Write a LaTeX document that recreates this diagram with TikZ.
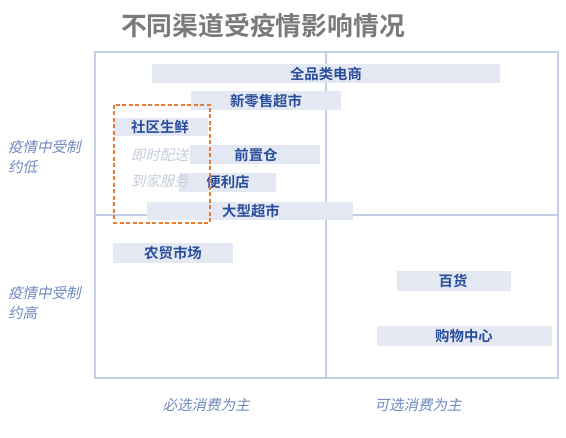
\documentclass[tikz,border=0pt]{standalone}
\usepackage{fontspec}
\newfontfamily\cjk{Noto Sans CJK SC}[BoldFont={Noto Sans CJK SC Bold}]
\newfontfamily\cjkit{Noto Sans CJK SC}[FakeSlant=0.22]
\definecolor{framec}{HTML}{C3CEE6}
\definecolor{barc}{HTML}{E3E8F2}
\definecolor{bartext}{HTML}{2B4E9C}
\definecolor{axistext}{HTML}{6E88BE}
\definecolor{ghost}{HTML}{C6CCDB}
\definecolor{orangec}{HTML}{E97C30}
\definecolor{titlec}{HTML}{7A7A7A}
\tikzset{
  bartxt/.style={font=\cjk\bfseries\fontsize{14.4}{16}\selectfont, text=bartext, inner sep=0pt, anchor=center},
  axtxt/.style={font=\cjkit\fontsize{14.5}{20}\selectfont, text=axistext, inner sep=0pt, align=left, anchor=north west},
  ghosttxt/.style={font=\cjkit\fontsize{14.3}{15}\selectfont, text=ghost, inner sep=0pt, anchor=west},
  bottxt/.style={font=\cjkit\fontsize{14.5}{16}\selectfont, text=axistext, inner sep=0pt},
  bar/.style={fill=barc}
}
\begin{document}
\begin{tikzpicture}[x=1pt,y=-1pt]
\useasboundingbox (0,0) rectangle (566,438);
\fill[white] (0,0) rectangle (566,438);
% title
\node[font=\cjk\bfseries\fontsize{25.8}{28}\selectfont, text=titlec, inner sep=0pt] (title) at (263,26) {不同渠道受疫情影响情况};
% frame
\draw[framec, line width=1.3pt] (95,52) rectangle (558,378);
\draw[framec, line width=1.3pt] (326,52) -- (326,378);
\draw[framec, line width=1.3pt] (95,215) -- (558,215);
% bars
\fill[bar] (152,64) rectangle (500,83);
\fill[bar] (191,91) rectangle (341,110);
\fill[bar] (114,118) rectangle (208,136);
\fill[bar] (190,145) rectangle (320,164);
\fill[bar] (179,173) rectangle (276,192);
\fill[bar] (147,202) rectangle (353,220);
\fill[bar] (113,243) rectangle (233,263);
\fill[bar] (397,271) rectangle (511,291);
\fill[bar] (377,326) rectangle (552,346);
% bar labels
\node[bartxt] (qp) at (326,74) {全品类电商};
\node[bartxt] (xl) at (266,101) {新零售超市};
\node[bartxt] (sq) at (160,127) {社区生鲜};
\node[bartxt] (qz) at (256,155) {前置仓};
\node[bartxt] (bl) at (228,182) {便利店};
\node[bartxt] (dx) at (251,211) {大型超市};
\node[bartxt] (nm) at (173,253) {农贸市场};
\node[bartxt] (bh) at (453,281) {百货};
\node[bartxt] (gw) at (464,336) {购物中心};
% ghost labels
\node[ghosttxt] (js) at (131,155) {即时配送};
\node[ghosttxt] (dj) at (131,181) {到家服务};
% dashed box
\draw[orangec, line width=1.6pt, dash pattern=on 4pt off 2.5pt] (114,105) rectangle (210,223);
% axis labels
\node[axtxt] (low) at (8,140) {疫情中受制\\约低};
\node[axtxt] (high) at (8,286) {疫情中受制\\约高};
\node[bottxt] (bx) at (206,405) {必选消费为主};
\node[bottxt] (kx) at (418,405) {可选消费为主};
\end{tikzpicture}
\end{document}
